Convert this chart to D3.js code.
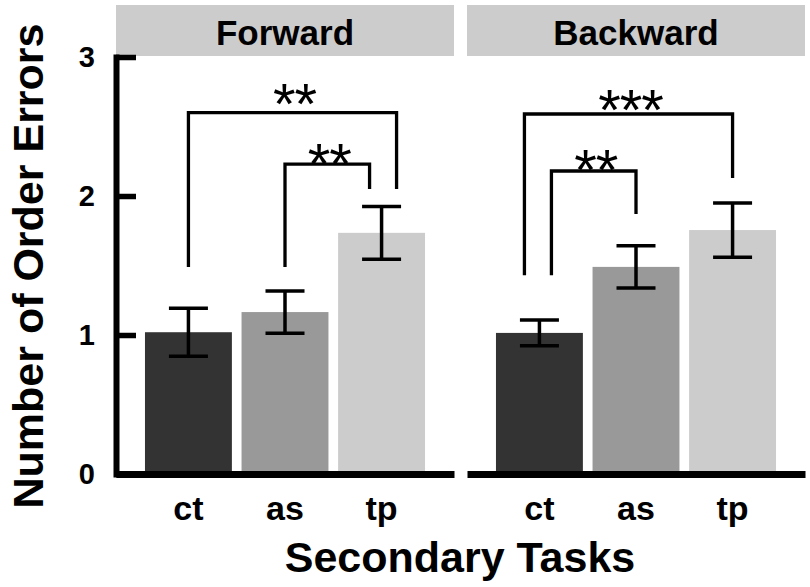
<!DOCTYPE html>
<html>
<head>
<meta charset="utf-8">
<script src="https://cdn.jsdelivr.net/npm/d3@7/dist/d3.min.js"></script>
<style>
  body { margin: 0; background: #fff; }
  text { font-family: "Liberation Sans", Arial, sans-serif; }
</style>
</head>
<body>
<div id="chart"></div>
<script>
// categories and panels
var tasks = ["ct", "as", "tp"];
var panelNames = ["Forward", "Backward"];
var yTicks = [0, 1, 2, 3];

// mean number of order errors and error bar half-widths
var forwardMeans = [1.02, 1.165, 1.735];
var forwardErr = [0.173, 0.152, 0.19];
var backwardMeans = [1.015, 1.49, 1.755];
var backwardErr = [0.093, 0.152, 0.195];

// significance brackets: pairs, bracket level, leg ends, star label height
var forwardPairs = [["ct", "tp"], ["as", "tp"]];
var forwardLevels = [2.6, 2.23];
var forwardLegEnds = [[1.49, 2.05], [1.49, 2.05]];
var forwardStars = ["**", "**"];
var forwardStarY = [2.75, 2.32];

var backwardPairs = [["ct", "tp"], ["ct", "as"]];
var backwardLevels = [2.59, 2.18];
var backwardLegEnds = [[1.43, 2.13], [1.43, 1.87]];
var backwardStars = ["***", "**"];
var backwardStarY = [2.71, 2.28];

var barColors = ["#333333", "#999999", "#cccccc"];

var panels = [
  { name: panelNames[0], means: forwardMeans, err: forwardErr, pairs: forwardPairs,
    levels: forwardLevels, legs: forwardLegEnds, stars: forwardStars, starY: forwardStarY },
  { name: panelNames[1], means: backwardMeans, err: backwardErr, pairs: backwardPairs,
    levels: backwardLevels, legs: backwardLegEnds, stars: backwardStars, starY: backwardStarY }
];

var width = 810, height = 587;
var panelRanges = [[116, 454], [467, 805]];

var svg = d3.select("#chart").append("svg")
    .attr("width", width)
    .attr("height", height);

var y = d3.scaleLinear().domain([0, 3]).range([474, 57]);

panels.forEach(function(p, pi) {
    var x = d3.scaleBand().domain(tasks).range(panelRanges[pi])
        .paddingInner(0.1).paddingOuter(0.3);

    var g = svg.append("g").attr("class", "panel");

    // strip header
    g.append("rect")
        .attr("x", panelRanges[pi][0])
        .attr("y", 5)
        .attr("width", panelRanges[pi][1] - panelRanges[pi][0])
        .attr("height", 51)
        .attr("fill", "#cccccc");
    g.append("text")
        .attr("x", (panelRanges[pi][0] + panelRanges[pi][1]) / 2)
        .attr("y", 45)
        .attr("text-anchor", "middle")
        .style("font-size", "35px")
        .style("font-weight", "bold")
        .text(p.name);

    // bars
    g.selectAll("rect.bar")
        .data(tasks)
        .enter().append("rect")
        .attr("class", "bar")
        .attr("x", function(d) { return x(d); })
        .attr("width", x.bandwidth())
        .attr("y", function(d, i) { return y(p.means[i]); })
        .attr("height", function(d, i) { return y(0) - y(p.means[i]); })
        .attr("fill", function(d, i) { return barColors[i]; });

    // error bars
    var cap = 19.5;
    var eb = g.selectAll("g.err")
        .data(tasks)
        .enter().append("g")
        .attr("class", "err")
        .attr("stroke", "#000")
        .attr("stroke-width", 3.5);
    eb.append("line")
        .attr("x1", function(d) { return x(d) + x.bandwidth() / 2; })
        .attr("x2", function(d) { return x(d) + x.bandwidth() / 2; })
        .attr("y1", function(d, i) { return y(p.means[i] + p.err[i]); })
        .attr("y2", function(d, i) { return y(p.means[i] - p.err[i]); });
    eb.append("line")
        .attr("x1", function(d) { return x(d) + x.bandwidth() / 2 - cap; })
        .attr("x2", function(d) { return x(d) + x.bandwidth() / 2 + cap; })
        .attr("y1", function(d, i) { return y(p.means[i] + p.err[i]); })
        .attr("y2", function(d, i) { return y(p.means[i] + p.err[i]); });
    eb.append("line")
        .attr("x1", function(d) { return x(d) + x.bandwidth() / 2 - cap; })
        .attr("x2", function(d) { return x(d) + x.bandwidth() / 2 + cap; })
        .attr("y1", function(d, i) { return y(p.means[i] - p.err[i]); })
        .attr("y2", function(d, i) { return y(p.means[i] - p.err[i]); });

    // significance brackets; when a bar carries two legs, the outer bracket
    // leg moves outward and the inner one inward
    var legCount = {};
    p.pairs.forEach(function(pr) {
        legCount[pr[0]] = (legCount[pr[0]] || 0) + 1;
        legCount[pr[1]] = (legCount[pr[1]] || 0) + 1;
    });
    var maxLevel = d3.max(p.levels);
    function legX(task, side, level) {
        var c = x(task) + x.bandwidth() / 2;
        if (legCount[task] < 2) return c;
        var outer = level === maxLevel;
        var dir = side === "left" ? -1 : 1;
        return outer ? c + dir * 15 : c - dir * 12;
    }
    p.pairs.forEach(function(pr, k) {
        var xl = legX(pr[0], "left", p.levels[k]);
        var xr = legX(pr[1], "right", p.levels[k]);
        g.append("path")
            .attr("d", "M" + xl + "," + y(p.legs[k][0]) +
                       "V" + y(p.levels[k]) +
                       "H" + xr +
                       "V" + y(p.legs[k][1]))
            .attr("fill", "none")
            .attr("stroke", "#000")
            .attr("stroke-width", 3.3);
        g.append("text")
            .attr("x", (xl + xr) / 2 + 2)
            .attr("y", y(p.starY[k]))
            .attr("dy", "0.56em")
            .attr("text-anchor", "middle")
            .style("font-size", "58px")
            .style("letter-spacing", "-1px")
            .text(p.stars[k]);
    });

    // x axis
    var xAxis = g.append("g")
        .attr("class", "x axis")
        .attr("transform", "translate(0," + y(0) + ")")
        .call(d3.axisBottom(x).tickSize(0).tickPadding(22));
    xAxis.select(".domain").attr("stroke-width", 7);
    xAxis.selectAll("text")
        .style("font-size", "34px")
        .style("font-weight", "bold")
        .style("font-family", "'Liberation Sans', Arial, sans-serif")
        .attr("fill", "#000");
});

// y axis on left panel
var yAxis = svg.append("g")
    .attr("class", "y axis")
    .attr("transform", "translate(116,0)")
    .call(d3.axisLeft(y).tickValues(yTicks).tickFormat(d3.format("d"))
        .tickSizeInner(-20).tickSizeOuter(0).tickPadding(21));
yAxis.select(".domain")
    .attr("stroke-width", 6)
    .attr("stroke-linecap", "square");
yAxis.selectAll(".tick line").attr("stroke-width", 5.5);
yAxis.selectAll("text")
    .style("font-size", "29px")
    .style("font-weight", "bold")
    .style("font-family", "'Liberation Sans', Arial, sans-serif")
    .attr("fill", "#000");

// axis titles
svg.append("text")
    .attr("transform", "translate(43,266) rotate(-90)")
    .attr("text-anchor", "middle")
    .style("font-size", "43px")
    .style("font-weight", "bold")
    .text("Number of Order Errors");

svg.append("text")
    .attr("x", 460)
    .attr("y", 572)
    .attr("text-anchor", "middle")
    .style("font-size", "43px")
    .style("font-weight", "bold")
    .text("Secondary Tasks");
</script>
</body>
</html>
